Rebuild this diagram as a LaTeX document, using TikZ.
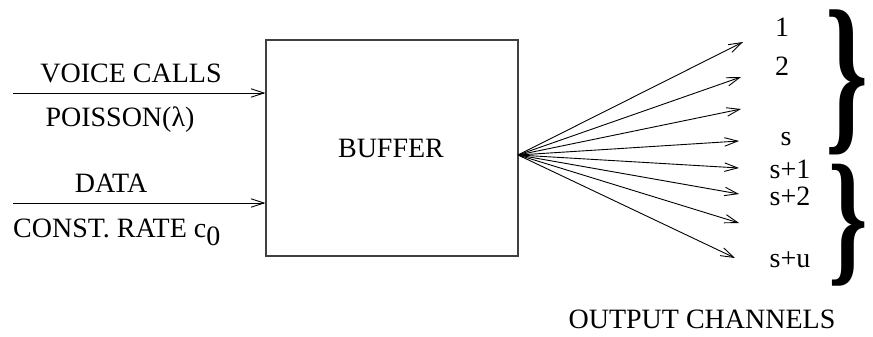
\documentclass[tikz,border=0pt]{standalone}
\usepackage{fontspec}
\setmainfont{Liberation Serif}
\usetikzlibrary{arrows.meta}
\tikzset{
  lbl/.style={anchor=base, inner sep=0pt, font=\fontsize{28}{32}\selectfont},
  flow/.style={line width=0.9pt, -{Straight Barb[length=13pt,width=8.5pt,line width=0.9pt]}},
  bufbox/.style={draw, line width=1.2pt, draw=black!75, minimum width=252pt, minimum height=216pt, inner sep=0pt},
  bracebox/.style={anchor=center, inner sep=0pt}
}
\newcommand{\bigbrace}[3]{\scalebox{#1}[1]{\resizebox*{!}{#2}{\bfseries #3}}}
\begin{document}
\begin{tikzpicture}[x=1pt, y=-1pt]
  \useasboundingbox (0,0) rectangle (873,337);

  % the buffer
  \node[bufbox] (buf) at (392,148) {};
  \node[lbl] (buftext) at (391,157) {BUFFER};

  % incoming streams
  \coordinate (in1) at (13,93);
  \coordinate (in2) at (13,203);
  \draw[flow] (in1) -- (buf.west |- in1);
  \draw[flow] (in2) -- (buf.west |- in2);
  \node[lbl] (voice) at (131,82) {VOICE CALLS};
  \node[lbl] (poisson) at (120,126) {POISSON(λ)};
  \node[lbl] (data) at (111,192) {DATA};
  \node[lbl, anchor=base west] (const) at (13,237) {CONST. RATE c\raisebox{-8pt}{0}};

  % output channels fanning out from one point
  \coordinate (fan) at (518,155);
  \coordinate (t1) at (743,42);
  \coordinate (t2) at (741,77);
  \coordinate (t3) at (741,109);
  \coordinate (t4) at (739,141);
  \coordinate (t5) at (739,168);
  \coordinate (t6) at (739,194);
  \coordinate (t7) at (739,223);
  \coordinate (t8) at (735,258);
  \foreach \t in {t1,t2,t3,t4,t5,t6,t7,t8}
    \draw[flow] (fan) -- (\t);

  \node[lbl] (c1) at (782,37) {1};
  \node[lbl] (c2) at (782,75) {2};
  \node[lbl] (cs) at (786,145) {s};
  \node[lbl] (cs1) at (790,178) {s+1};
  \node[lbl] (cs2) at (790,205) {s+2};
  \node[lbl] (csu) at (790,267) {s+u};

  % grouping braces
  \node[bracebox] (brace1) at (847,82.5) {\bigbrace{0.62}{145pt}{\}}};
  \node[bracebox] (brace2) at (848,225) {\bigbrace{0.68}{122pt}{\}}};

  \node[lbl] (outlabel) at (702,328) {OUTPUT CHANNELS};
\end{tikzpicture}
\end{document}
